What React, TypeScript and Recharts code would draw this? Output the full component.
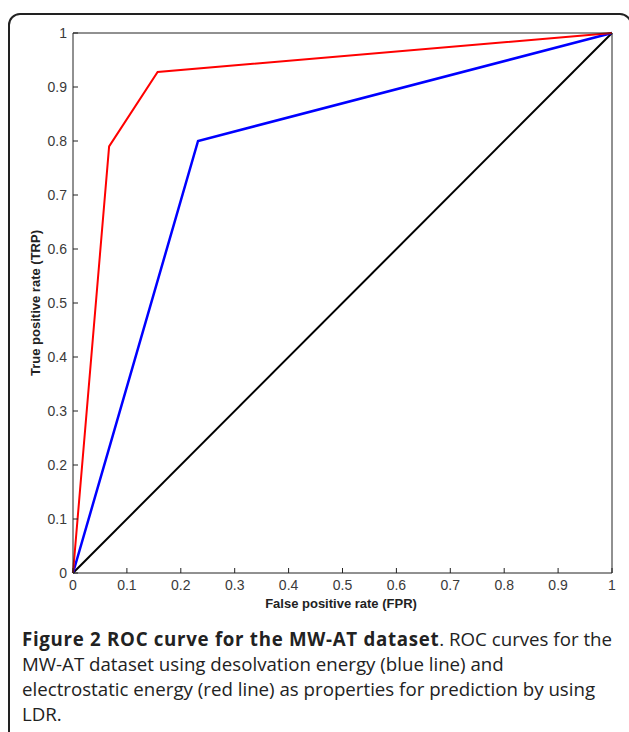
import React from 'react'
import { LineChart, Line, XAxis, YAxis } from 'recharts'

const ticks = [0, 0.1, 0.2, 0.3, 0.4, 0.5, 0.6, 0.7, 0.8, 0.9, 1]
const tickLabels = ['0', '0.1', '0.2', '0.3', '0.4', '0.5', '0.6', '0.7', '0.8', '0.9', '1']

// ROC points (FPR, TPR)
const redFpr = [0, 0.067, 0.157, 1]
const redTpr = [0, 0.79, 0.928, 1]
const blueFpr = [0, 0.232, 1]
const blueTpr = [0, 0.8, 1]
const diagFpr = [0, 1]
const diagTpr = [0, 1]

const toPts = (xs: number[], ys: number[]) => xs.map((x, i) => ({ x, y: ys[i] }))
const red = toPts(redFpr, redTpr)
const blue = toPts(blueFpr, blueTpr)
const diag = toPts(diagFpr, diagTpr)

const font = '"Liberation Sans", Arial, sans-serif'
const label = (v: number) => tickLabels[ticks.indexOf(v)] ?? String(v)

const BottomTick = (p: any) => (
  <g>
    <line x1={p.x} x2={p.x} y1={p.y} y2={p.y - 5} stroke="#222" />
    <text x={p.x} y={p.y + 17} textAnchor="middle" fontSize={14} fill="#3a3a3a" fontFamily={font}>
      {label(p.payload.value)}
    </text>
  </g>
)
const LeftTick = (p: any) => (
  <g>
    <line x1={p.x} x2={p.x + 5} y1={p.y} y2={p.y} stroke="#222" />
    <text x={p.x - 6} y={p.y + 5} textAnchor="end" fontSize={14} fill="#3a3a3a" fontFamily={font}>
      {label(p.payload.value)}
    </text>
  </g>
)
const TopTick = (p: any) => <line x1={p.x} x2={p.x} y1={p.y} y2={p.y + 5} stroke="#222" />
const RightTick = (p: any) => <line x1={p.x} x2={p.x - 5} y1={p.y} y2={p.y} stroke="#222" />

export default function App() {
  return (
    <div style={{ position: 'absolute', left: 0, top: 0, width: 629, height: 732, background: '#fff', overflow: 'hidden' }}>
      <div style={{ position: 'absolute', left: 8, top: 13, width: 624, height: 760, border: '2px solid #222', borderRadius: 12, boxSizing: 'border-box' }} />
      <div style={{ position: 'absolute', left: 0, top: 0 }}>
        <LineChart width={629} height={615} margin={{ top: 32, right: 16, left: 32, bottom: 0 }}>
          <XAxis xAxisId="b" dataKey="x" type="number" domain={[0, 1]} ticks={ticks} tickSize={0} tickMargin={0}
            tick={<BottomTick />} stroke="#222" height={42} allowDuplicatedCategory={false} />
          <XAxis xAxisId="t" orientation="top" dataKey="x" type="number" domain={[0, 1]} ticks={ticks} tickSize={0} tickMargin={0}
            tick={<TopTick />} stroke="#222" height={1} allowDuplicatedCategory={false} />
          <YAxis yAxisId="l" type="number" domain={[0, 1]} ticks={ticks} tickSize={0} tickMargin={0}
            tick={<LeftTick />} stroke="#222" width={41} />
          <YAxis yAxisId="r" orientation="right" type="number" domain={[0, 1]} ticks={ticks} tickSize={0} tickMargin={0}
            tick={<RightTick />} stroke="#222" width={1} />
          <Line xAxisId="b" yAxisId="l" data={diag} dataKey="y" stroke="#000" strokeWidth={2} dot={false} isAnimationActive={false} />
          <Line xAxisId="b" yAxisId="l" data={blue} dataKey="y" stroke="#0000ff" strokeWidth={2.5} dot={false} isAnimationActive={false} />
          <Line xAxisId="b" yAxisId="l" data={red} dataKey="y" stroke="#ff0000" strokeWidth={2} dot={false} isAnimationActive={false} />
        </LineChart>
      </div>
      <div style={{ position: 'absolute', left: 241, top: 596, width: 200, textAlign: 'center', font: `bold 13px ${font}`, color: '#222' }}>
        False positive rate (FPR)
      </div>
      <div style={{ position: 'absolute', left: 35, top: 303, transform: 'translate(-50%, -50%) rotate(-90deg)', whiteSpace: 'nowrap', font: `bold 13px ${font}`, color: '#222' }}>
        True positive rate (TRP)
      </div>
      <div style={{ position: 'absolute', left: 22, top: 626, width: 610, whiteSpace: 'nowrap', fontFamily: '"Open Sans", sans-serif', fontSize: 18.7, lineHeight: '25px', color: '#222' }}>
        <b style={{ letterSpacing: 0.7 }}>Figure 2 ROC curve for the MW-AT dataset</b>. ROC curves for the<br />
        MW-AT dataset using desolvation energy (blue line) and<br />
        electrostatic energy (red line) as properties for prediction by using<br />
        LDR.
      </div>
    </div>
  )
}
